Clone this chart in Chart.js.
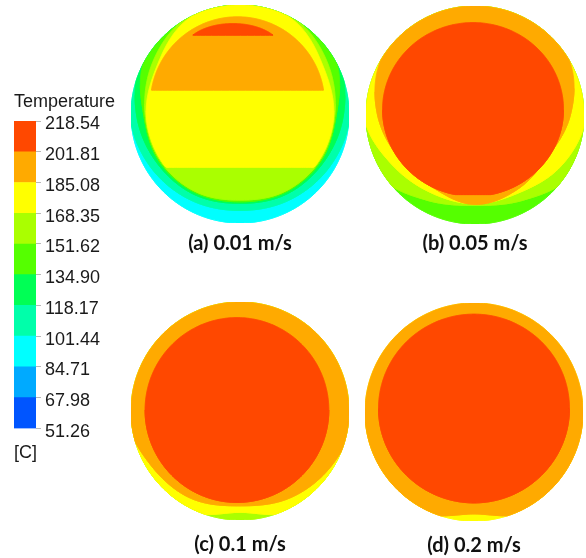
<!DOCTYPE html>
<html><head><meta charset="utf-8">
<script src="https://cdn.jsdelivr.net/npm/chart.js@4.4.1/dist/chart.umd.min.js"></script>
<style>
html,body{margin:0;padding:0;background:#fff;}
#page{position:relative;width:586px;height:558px;overflow:hidden;background:#fff;}
.box{position:absolute;}
</style></head><body><div id="page"></div>
<script>
// ---------- DATA ----------
const levels = [51.26, 67.98, 84.71, 101.44, 118.17, 134.90, 151.62, 168.35, 185.08, 201.81, 218.54];
const bandColors = ['#0055ff','#00aaff','#00ffff','#00ffaa','#00ff55','#55ff00','#aaff00','#ffff00','#ffaa00','#ff4800'];
const legendTitle = 'Temperature';
const legendUnit = '[C]';
const panelLabels = ['(a) 0.01 m/s', '(b) 0.05 m/s', '(c) 0.1 m/s', '(d) 0.2 m/s'];

// contour regions, pipe cross-section in unit-radius coordinates
// radial regions: [band, vMin, vMax, boundary radius at 0°,30°,...,330°]
const ringsA = [
  [2, -1, 1, 1.05,1.05,1.05,1.05,1.05,1.05,1.05,1.05,1.05,1.05,1.05,1.05],
  [3, -1, 1, 1.01,1.05,1.05,1.05,1.05,1.05,1.01,0.955,0.91,0.885,0.91,0.955],
  [4, -1, 1, 0.95,1.03,1.05,1.05,1.05,1.03,0.95,0.885,0.85,0.82,0.85,0.885],
  [5, -1, 1, 0.885,1.01,1.05,1.05,1.05,1.01,0.885,0.86,0.83,0.806,0.83,0.86],
  [6, -1, 1, 0.87,0.93,1.01,1.05,1.01,0.93,0.87,0.848,0.82,0.79,0.82,0.848],
  [7, -0.488, 1, 0.86,0.88,0.99,1.05,0.99,0.88,0.86,0.84,0.83,0.82,0.83,0.84]
];
// elliptical regions: [band, centre u, centre v, radius u, radius v, vMin, vMax]
const capsA = [
  [8, -0.023, 0.092, 0.80, 0.80, 0.22, 1],
  [9, -0.065, 0.58, 0.45, 0.25, 0.724, 1]
];
const ringsB = [
  [5, -1, 1, 1.05,1.05,1.05,1.05,1.05,1.05,1.05,1.05,1.05,1.05,1.05,1.05],
  [6, -1, 1, 1.05,1.05,1.05,1.05,1.05,1.05,1.05,1.05,0.90,0.83,0.90,1.05],
  [7, -1, 1, 1.02,1.05,1.05,1.05,1.05,1.05,1.02,0.89,0.82,0.815,0.82,0.92],
  [8, -1, 1, 0.875,1.0,1.05,1.05,1.05,1.0,0.894,0.80,0.77,0.82,0.785,0.77]
];
const capsB = [
  [9, -0.018, 0.051, 0.83, 0.797, -0.73, 1]
];
const ringsC = [
  [6, -1, 1, 1.05,1.05,1.05,1.05,1.05,1.05,1.05,1.05,1.05,1.05,1.05,1.05],
  [7, -1, 1, 1.05,1.05,1.05,1.05,1.05,1.05,1.05,1.05,1.05,0.93,1.05,1.05],
  [8, -1, 1, 1.05,1.05,1.05,1.05,1.05,1.05,1.05,0.96,0.92,0.87,0.92,0.98]
];
const capsC = [
  [9, -0.028, 0.009, 0.843, 0.848, -1, 1]
];
const ringsD = [
  [7, -1, 1, 1.05,1.05,1.05,1.05,1.05,1.05,1.05,1.05,1.05,1.05,1.05,1.05],
  [8, -1, 1, 1.05,1.05,1.05,1.05,1.05,1.05,1.05,1.05,1.05,0.935,1.05,1.05]
];
const capsD = [
  [9, 0.0, 0.032, 0.876, 0.866, -1, 1]
];

// ---------- LAYOUT ----------
const R = 109;
const panels = [
  {cx: 239.5, cy: 114,   labelY: 243.5, rings: ringsA, caps: capsA, label: panelLabels[0]},
  {cx: 475,   cy: 114.5, labelY: 243.5, rings: ringsB, caps: capsB, label: panelLabels[1]},
  {cx: 239.5, cy: 411,   labelY: 545,   rings: ringsC, caps: capsC, label: panelLabels[2]},
  {cx: 474,   cy: 411.5, labelY: 545,   rings: ringsD, caps: capsD, label: panelLabels[3]}
];
const page = document.getElementById('page');
Chart.defaults.font.family = "'Liberation Sans', Arial, sans-serif";
Chart.defaults.color = '#1a1a1a';

function makeCanvas(left, top, w, h) {
  const d = document.createElement('div');
  d.className = 'box';
  d.style.left = left + 'px'; d.style.top = top + 'px';
  d.style.width = w + 'px'; d.style.height = h + 'px';
  const c = document.createElement('canvas');
  c.width = w; c.height = h;
  c.style.width = w + 'px'; c.style.height = h + 'px';
  d.appendChild(c); page.appendChild(d);
  return c;
}

// ---------- geometry helpers ----------
function catmull(r, t) {
  const n = r.length, i = Math.floor(t), f = t - i;
  const p0 = r[(i - 1 + n) % n], p1 = r[i % n], p2 = r[(i + 1) % n], p3 = r[(i + 2) % n];
  return 0.5 * (2 * p1 + (-p0 + p2) * f + (2 * p0 - 5 * p1 + 4 * p2 - p3) * f * f + (-p0 + 3 * p1 - 3 * p2 + p3) * f * f * f);
}
function ringPolygon(layer) {
  const vMin = layer[1], vMax = layer[2], r = layer.slice(3);
  const N = 360, pts = [];
  for (let k = 0; k < N; k++) {
    const th = 2 * Math.PI * k / N;
    let rr = catmull(r, th / (2 * Math.PI) * r.length);
    rr = Math.min(rr, 1);
    const s = Math.sin(th), c = Math.cos(th);
    if (s < -1e-9 && vMin > -1) rr = Math.min(rr, vMin / s);
    if (s > 1e-9 && vMax < 1) rr = Math.min(rr, vMax / s);
    pts.push({x: rr * c, y: rr * s});
  }
  return pts;
}
function capPolygon(layer) {
  const [, cu, cv, rx, ry, vMin, vMax] = layer;
  const lo = Math.max(vMin, cv - ry, -1), hi = Math.min(vMax, cv + ry, 1);
  const M = 160, right = [], left = [];
  for (let t = 0; t <= M; t++) {
    const v = lo + (hi - lo) * (1 - Math.cos(Math.PI * t / M)) / 2;
    const q = (v - cv) / ry;
    const w = rx * Math.sqrt(Math.max(0, 1 - q * q));
    const c = Math.sqrt(Math.max(0, 1 - v * v));
    const xl = Math.max(cu - w, -c), xr = Math.min(cu + w, c);
    if (xl > xr) continue;
    right.push({x: xr, y: v});
    left.push({x: xl, y: v});
  }
  return right.concat(left.reverse());
}
// order points so the path starts at the leftmost and ends at the rightmost point
function fillPath(poly) {
  const n = poly.length;
  let iMin = 0, iMax = 0;
  for (let i = 1; i < n; i++) {
    if (poly[i].x < poly[iMin].x) iMin = i;
    if (poly[i].x > poly[iMax].x) iMax = i;
  }
  const out = [];
  for (let k = 0; k <= n; k++) out.push(poly[(iMin + k) % n]);
  let k = 1;
  while (true) {
    const idx = (iMin + k) % n;
    out.push(poly[idx]);
    if (idx === iMax) break;
    k++;
  }
  return out;
}

// ---------- panels ----------
panels.forEach(p => {
  const layers = [];
  p.rings.forEach(l => layers.push({band: l[0], pts: ringPolygon(l)}));
  p.caps.forEach(l => layers.push({band: l[0], pts: capPolygon(l)}));
  const datasets = layers.map((L, i) => ({
    data: fillPath(L.pts),
    showLine: true,
    fill: 'shape',
    backgroundColor: bandColors[L.band],
    borderColor: bandColors[L.band],
    borderWidth: 1,
    pointRadius: 0,
    pointHoverRadius: 0,
    tension: 0.0001,
    order: -i
  }));
  const fontSize = 20, lh = fontSize * 1.2;
  const padTop = p.labelY - (p.cy + R) - lh / 2;
  const W = 2 * R, H = Math.ceil(2 * R + padTop + lh + 2);
  const cv = makeCanvas(p.cx - R, p.cy - R, W, H);
  new Chart(cv, {
    type: 'scatter',
    data: {datasets},
    options: {
      responsive: false, animation: false, events: [],
      layout: {padding: 0},
      scales: {
        x: {type: 'linear', min: -1, max: 1, display: false},
        y: {type: 'linear', min: -1, max: 1, display: false}
      },
      plugins: {
        legend: {display: false}, tooltip: {enabled: false},
        title: {
          display: true, position: 'bottom', text: p.label, color: '#111',
          font: {family: 'Lato', weight: 'bold', size: fontSize, lineHeight: 1.2},
          padding: {top: padTop, bottom: H - (2 * R + padTop + lh)}
        }
      }
    }
  });
});

// ---------- colour bar ----------
(function () {
  const barLeft = 14, barTop = 121, barBottom = 428, barW = 22;
  const top = 85, fs = 18, lh = fs * 1.2;
  const tTop = 6.7, tBottom = barTop - top - tTop - lh;
  const sBottom = 5.3, sTop = 13.7;
  const H = Math.round((barBottom - top) + sTop + lh + sBottom);
  const axisW = 100;
  const cv = makeCanvas(barLeft, top, barW + axisW, H);
  const datasets = bandColors.map((c, i) => ({
    data: [[levels[i], levels[i + 1]]],
    backgroundColor: c, borderWidth: 0, grouped: false,
    barPercentage: 1, categoryPercentage: 1
  }));
  new Chart(cv, {
    type: 'bar',
    data: {labels: [''], datasets},
    options: {
      responsive: false, animation: false, events: [],
      layout: {padding: 0},
      scales: {
        x: {display: false},
        y: {
          position: 'right', min: levels[0], max: levels[levels.length - 1],
          afterBuildTicks: s => { s.ticks = levels.map(v => ({value: v})); },
          afterFit: s => { s.width = axisW; },
          grid: {drawOnChartArea: false, drawTicks: true, tickLength: 5, color: '#b8b8b8'},
          border: {display: false},
          ticks: {
            padding: 4, labelOffset: 3.5, color: '#1a1a1a',
            font: {size: fs, family: "'Liberation Sans', Arial, sans-serif"},
            callback: v => Number(v).toFixed(2)
          }
        }
      },
      plugins: {
        legend: {display: false}, tooltip: {enabled: false},
        title: {display: true, text: legendTitle, align: 'start', color: '#1a1a1a',
          font: {size: fs, weight: 'normal', lineHeight: 1.2}, padding: {top: tTop, bottom: tBottom}},
        subtitle: {display: true, text: legendUnit, align: 'start', position: 'bottom', color: '#1a1a1a',
          font: {size: fs, weight: 'normal', lineHeight: 1.2}, padding: {top: sTop, bottom: sBottom}}
      }
    }
  });
})();
</script>
</body></html>
